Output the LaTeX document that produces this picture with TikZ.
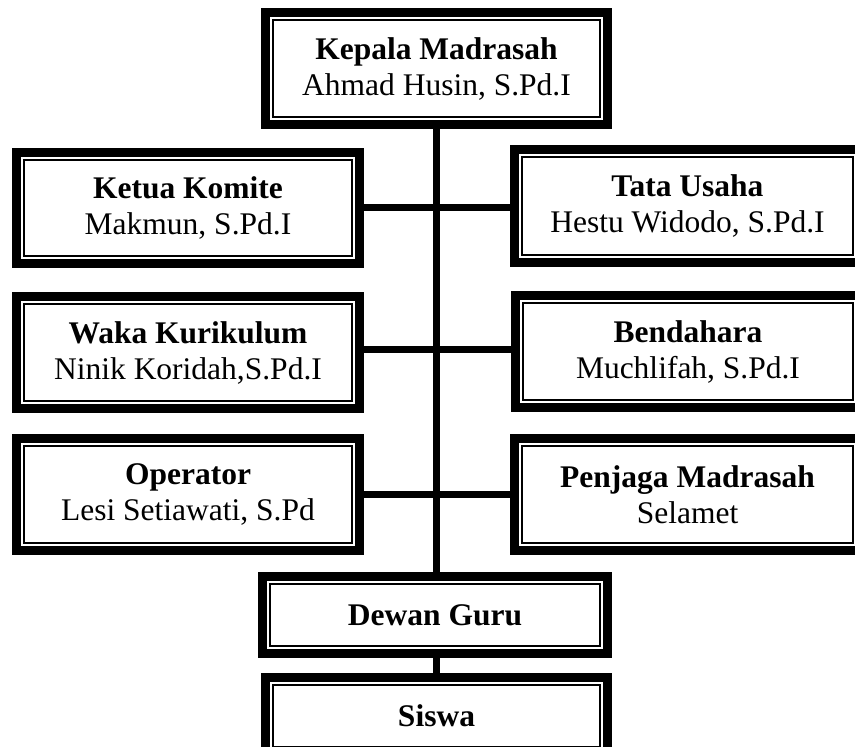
\documentclass[tikz,border=0pt]{standalone}
\usepackage{fontspec}
\setmainfont{Liberation Serif}
\begin{document}
\begin{tikzpicture}[x=1pt,y=-1pt,
  orgbox/.style={draw=black, line width=9pt, inner sep=0pt, outer sep=0pt,
    align=center, font=\fontsize{31.5}{36}\selectfont,
    minimum width=#1},
  orgbox/.default=343pt,
  thinline/.style={draw=black, line width=1.8pt},
  conn/.style={draw=black, line width=7pt}]
\useasboundingbox (0,0) rectangle (855,747);
\clip (0,0) rectangle (855,747);
\fill[white] (0,0) rectangle (855,747);

\node[orgbox=342pt, minimum height=112pt] (kepala) at (436.5,68.5) {\textbf{Kepala Madrasah}\\Ahmad Husin, S.Pd.I};
\node[orgbox=343pt, minimum height=111pt] (ketua) at (188,208) {\textbf{Ketua Komite}\\Makmun, S.Pd.I};
\node[orgbox=346pt, minimum height=113pt] (tata) at (687.5,206) {\textbf{Tata Usaha}\\Hestu Widodo, S.Pd.I};
\node[orgbox=343pt, minimum height=112pt] (waka) at (188,352.5) {\textbf{Waka Kurikulum}\\Ninik Koridah,S.Pd.I};
\node[orgbox=345pt, minimum height=112pt] (bendahara) at (688,351.5) {\textbf{Bendahara}\\Muchlifah, S.Pd.I};
\node[orgbox=343pt, minimum height=112pt] (operator) at (188,494.5) {\textbf{Operator}\\Lesi Setiawati, S.Pd};
\node[orgbox=346pt, minimum height=112pt] (penjaga) at (687.5,494.5) {\textbf{Penjaga Madrasah}\\Selamet};
\node[orgbox=345pt, minimum height=77pt] (dewan) at (435,615) {\textbf{Dewan Guru}};
\node[orgbox=342pt, minimum height=77pt] (siswa) at (436.5,716) {\textbf{Siswa}};

\foreach \n in {kepala,ketua,tata,waka,bendahara,operator,penjaga,dewan,siswa}
  \draw[thinline] ([shift={(7.6pt,-7.6pt)}]\n.north west) rectangle ([shift={(-7.6pt,7.6pt)}]\n.south east);

\draw[conn] (kepala.south) -- (kepala.south |- dewan.north);
\draw[conn] (dewan.south -| siswa.north) -- (siswa.north);
\draw[conn] ([yshift=1pt]ketua.east) -- ([yshift=1pt]ketua.east -| tata.west);
\draw[conn] ([yshift=3pt]waka.east) -- ([yshift=3pt]waka.east -| bendahara.west);
\draw[conn] (operator.east) -- (operator.east -| penjaga.west);
\end{tikzpicture}
\end{document}
